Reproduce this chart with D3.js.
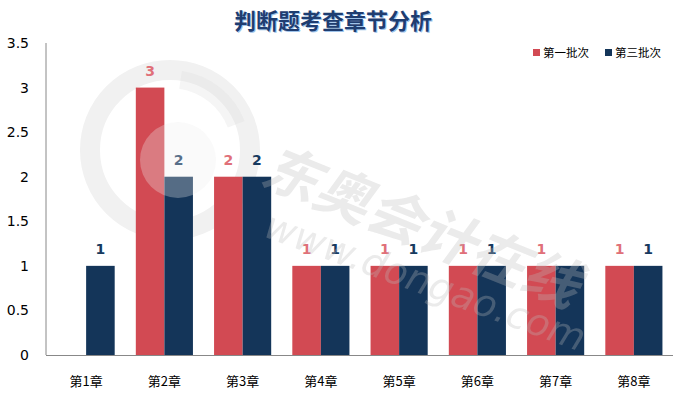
<!DOCTYPE html>
<html>
<head>
<meta charset="utf-8">
<script src="https://cdn.jsdelivr.net/npm/d3@7"></script>
<style>
  body { margin: 0; background: #fff; }
  svg { display: block; font-family: "DejaVu Sans", Verdana, sans-serif; }
</style>
</head>
<body>
<svg width="690" height="399"></svg>
<script>
// chart data
var chapters = ['第1章','第2章','第3章','第4章','第5章','第6章','第7章','第8章'];
var batch1 = [0, 3, 2, 1, 1, 1, 1, 1];
var batch3 = [1, 2, 2, 1, 1, 1, 1, 1];
var seriesNames = ['第一批次', '第三批次'];
var yTicks = [0, 0.5, 1, 1.5, 2, 2.5, 3, 3.5];
// label shown? (7th chapter navy label hidden in the original)
var showLabel3 = [true, true, true, true, true, true, false, true];

var colors = ['#D24A53', '#143559'];
var labelColors = ['#E07079', '#173A5F'];

var svg = d3.select('svg');
var plotLeft = 46, plotRight = 673, plotTop = 43, plotBottom = 355;

var x = d3.scaleBand().domain(chapters).range([plotLeft + 1, plotRight]).paddingInner(0.27).paddingOuter(0.135);
var x1 = d3.scaleBand().domain([0, 1]).range([0, x.bandwidth()]);
var y = d3.scaleLinear().domain([0, 3.5]).range([plotBottom, plotTop]);

// title
svg.append('text')
    .attr('x', 334).attr('y', 30)
    .attr('text-anchor', 'middle')
    .attr('font-family', '"Noto Sans CJK SC", sans-serif')
    .attr('font-size', 22).attr('font-weight', 'bold')
    .attr('fill', '#9ec3ea')
    .text('判断题考查章节分析');
svg.append('text')
    .attr('x', 333).attr('y', 29)
    .attr('text-anchor', 'middle')
    .attr('font-family', '"Noto Sans CJK SC", sans-serif')
    .attr('font-size', 22).attr('font-weight', 'bold')
    .attr('fill', '#1F3D70')
    .text('判断题考查章节分析');

// watermark (behind-ish circle)
var wm = svg.append('g').attr('pointer-events', 'none');
wm.append('circle').attr('cx', 170).attr('cy', 150).attr('r', 80)
    .attr('fill', 'none').attr('stroke', '#f1f1f1').attr('stroke-width', 20);

// y axis labels
svg.selectAll('.ylab').data(yTicks).enter().append('text')
    .attr('class', 'ylab')
    .attr('x', 29)
    .attr('y', function(d){ return y(d) + 5; })
    .attr('text-anchor', 'end')
    .attr('font-size', 14)
    .attr('fill', '#000')
    .text(function(d){ return d; });

// bars
var data = [];
chapters.forEach(function(c, i){
    data.push({c: c, s: 0, v: batch1[i], show: batch1[i] > 0});
    data.push({c: c, s: 1, v: batch3[i], show: showLabel3[i]});
});

svg.selectAll('.bar').data(data.filter(function(d){ return d.v > 0; })).enter().append('rect')
    .attr('class', 'bar')
    .attr('x', function(d){ return x(d.c) + x1(d.s); })
    .attr('y', function(d){ return y(d.v); })
    .attr('width', x1.bandwidth())
    .attr('height', function(d){ return plotBottom - y(d.v); })
    .attr('fill', function(d){ return colors[d.s]; });

svg.selectAll('.vlab').data(data.filter(function(d){ return d.v > 0 && d.show; })).enter().append('text')
    .attr('class', 'vlab')
    .attr('x', function(d){ return x(d.c) + x1(d.s) + x1.bandwidth() / 2; })
    .attr('y', function(d){ return y(d.v) - 12; })
    .attr('text-anchor', 'middle')
    .attr('font-size', 14).attr('font-weight', 'bold')
    .attr('fill', function(d){ return labelColors[d.s]; })
    .text(function(d){ return d.v; });

// axes lines
svg.append('line').attr('x1', plotLeft).attr('x2', plotLeft).attr('y1', plotTop).attr('y2', plotBottom)
    .attr('stroke', '#888').attr('stroke-width', 1);
svg.append('line').attr('x1', plotLeft).attr('x2', plotRight).attr('y1', plotBottom + 0.5).attr('y2', plotBottom + 0.5)
    .attr('stroke', '#888').attr('stroke-width', 1.2);

// x labels
svg.selectAll('.xlab').data(chapters).enter().append('text')
    .attr('class', 'xlab')
    .attr('x', function(d){ return x(d) + x.bandwidth() / 2; })
    .attr('y', 386)
    .attr('text-anchor', 'middle')
    .attr('font-family', '"Noto Sans CJK SC", sans-serif')
    .attr('font-size', 13)
    .attr('fill', '#000')
    .text(function(d){ return d; });

// legend
var lg = svg.append('g').attr('transform', 'translate(533,48)');
seriesNames.forEach(function(n, i){
    var g = lg.append('g').attr('transform', 'translate(' + (i * 72) + ',0)');
    g.append('rect').attr('width', 7).attr('height', 7).attr('y', 1).attr('fill', colors[i]);
    g.append('text').attr('x', 10).attr('y', 8.5)
        .attr('font-family', '"Noto Sans CJK SC", sans-serif')
        .attr('font-size', 11.5).attr('fill', '#000')
        .text(n);
});

// watermark overlay
var wm2 = svg.append('g').attr('pointer-events', 'none').attr('opacity', 0.3);
wm2.append('path')
    .attr('d', d3.arc().innerRadius(62).outerRadius(80).startAngle(0.15).endAngle(1.2)())
    .attr('transform', 'translate(170,150)')
    .attr('fill', '#ddd');
wm2.append('circle').attr('cx', 178).attr('cy', 160).attr('r', 38).attr('fill', '#eee');
wm2.append('text')
    .attr('transform', 'translate(258,182) rotate(22)')
    .attr('font-family', '"Noto Sans CJK SC", sans-serif')
    .attr('font-size', 56).attr('font-weight', 'bold').attr('font-style', 'italic')
    .attr('fill', '#bbb')
    .text('东奥会计在线');
wm2.append('text')
    .attr('transform', 'translate(262,236) rotate(20)')
    .attr('font-family', '"DejaVu Sans", sans-serif')
    .attr('font-size', 38).attr('font-style', 'italic')
    .attr('fill', '#bbb')
    .text('www.dongao.com');
</script>
</body>
</html>
